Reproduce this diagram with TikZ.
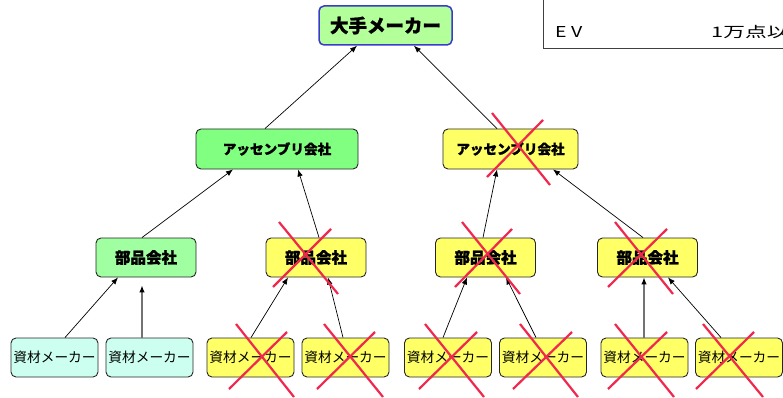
\documentclass[tikz,border=0pt]{standalone}
\usepackage{fontspec}
\newfontfamily\jp{Noto Sans CJK JP}[BoldFeatures={FakeBold=1.2}]
\newfontfamily\jpwide{Noto Sans CJK JP}[FakeStretch=1.3]
\newfontfamily\jpwider{Noto Sans CJK JP}[FakeStretch=1.5]
\usetikzlibrary{arrows.meta,calc}
\definecolor{topgreen}{HTML}{B3FF99}
\definecolor{midgreen}{HTML}{80FF80}
\definecolor{partgreen}{HTML}{A0FFA0}
\definecolor{matcyan}{HTML}{CCFFF0}
\definecolor{ylw}{HTML}{FFFF66}
\definecolor{xred}{HTML}{F0284E}
\definecolor{topblue}{HTML}{3A3ACC}
\tikzset{
  box/.style={draw=black!85, line width=0.9pt, rounded corners=5pt, inner sep=0pt, align=center},
  topbox/.style={box, draw=topblue, line width=1.5pt, fill=topgreen, minimum width=133pt, minimum height=39pt, font=\jp\bfseries\fontsize{18.5}{20}\selectfont},
  asmbox/.style={box, minimum height=40pt, font=\jp\bfseries\fontsize{13.6}{15}\selectfont},
  partbox/.style={box, minimum width=100pt, minimum height=39pt, font=\jp\bfseries\fontsize{15.5}{17}\selectfont},
  matbox/.style={box, minimum width=87pt, minimum height=39pt, font=\jp\fontsize{13.7}{15}\selectfont},
  arr/.style={draw=black, line width=0.7pt, -{Latex[length=7pt,width=5.5pt,color=black]}},
  garr/.style={arr, draw=black!55, line width=1.1pt},
  xline/.style={draw=xred, line width=2.2pt},
}
\begin{document}
\begin{tikzpicture}[x=1pt,y=-1pt]
\useasboundingbox (0,0) rectangle (783,398);
% table fragment top right
\begin{scope}
\clip (0,0) rectangle (783,398);
\draw[draw=black!75, line width=0.8pt] (543,-20) rectangle (820,48);
\node[anchor=west, inner sep=0pt, font=\jpwide\fontsize{15}{16}\selectfont] (ev) at (555,32) {E V};
\node[anchor=west, inner sep=0pt, font=\jpwider\fontsize{14.5}{16}\selectfont] (evn) at (711,32) {1万点以};
\end{scope}
% nodes
\node[topbox] (top) at (385.5,25.5) {大手メーカー};
\node[asmbox, fill=midgreen, minimum width=162pt] (ml) at (277,149) {アッセンブリ会社};
\node[asmbox, fill=ylw, minimum width=135pt] (mr) at (510.5,149) {アッセンブリ会社};
\node[partbox, fill=partgreen] (p1) at (146,257.5) {部品会社};
\node[partbox, fill=ylw] (p2) at (316,257.5) {部品会社};
\node[partbox, fill=ylw] (p3) at (485.5,257.5) {部品会社};
\node[partbox, fill=ylw] (p4) at (647.5,257.5) {部品会社};
\node[matbox, fill=matcyan] (b1) at (54.5,357.5) {資材メーカー};
\node[matbox, fill=matcyan] (b2) at (149.5,357.5) {資材メーカー};
\node[matbox, fill=ylw] (b3) at (250.5,357.5) {資材メーカー};
\node[matbox, fill=ylw] (b4) at (345.5,357.5) {資材メーカー};
\node[matbox, fill=ylw] (b5) at (448,357.5) {資材メーカー};
\node[matbox, fill=ylw] (b6) at (543,357.5) {資材メーカー};
\node[matbox, fill=ylw] (b7) at (644.5,357.5) {資材メーカー};
\node[matbox, fill=ylw] (b8) at (739,357.5) {資材メーカー};
% connectors
\draw[arr] ([xshift=-12pt]ml.north) -- ([xshift=-28.5pt]top.south);
\draw[arr] ([xshift=-13.5pt]mr.north) -- ([xshift=28.5pt]top.south);
\draw[arr] ([xshift=-4pt]p1.north) -- ([xshift=-44pt]ml.south);
\draw[arr] ([xshift=3pt]p2.north) -- ([xshift=21pt]ml.south);
\draw[arr] ([xshift=-2.5pt]p3.north) -- ([xshift=-13.5pt]mr.south);
\draw[arr] ([xshift=-4.5pt]p4.north) -- ([xshift=42.5pt]mr.south);
\draw[arr] ([xshift=10.5pt]b1.north) -- ([xshift=-28pt]p1.south);
\draw[garr] ([xshift=-7.5pt]b2.north) -- ([xshift=-4pt,yshift=-8pt]p1.south);
\draw[arr] ([xshift=0.5pt]b3.north) -- ([xshift=-28pt]p2.south);
\draw[arr] ([xshift=-2.5pt]b4.north) -- ([xshift=12pt]p2.south);
\draw[arr] ([xshift=-5pt]b5.north) -- ([xshift=-18.5pt]p3.south);
\draw[arr] ([xshift=-7pt]b6.north) -- ([xshift=20.5pt]p3.south);
\draw[garr] ([xshift=-0.5pt]b7.north) -- ([xshift=-3.5pt]p4.south);
\draw[arr] ([xshift=-18pt]b8.north) -- ([xshift=20.5pt]p4.south);
% red crosses
\draw[xline] (492,113) -- (550,185);
\draw[xline] (543,120) -- (487,177);
\draw[xline] (279,222) -- (338,294);
\draw[xline] (331,229) -- (273,287);
\draw[xline] (462,222) -- (520,294);
\draw[xline] (512,229) -- (455,287);
\draw[xline] (615,222) -- (673,294);
\draw[xline] (667,229) -- (608,287);
\draw[xline] (236,324) -- (294,397);
\draw[xline] (287,332) -- (229,389);
\draw[xline] (324,324) -- (383,397);
\draw[xline] (375,332) -- (317,389);
\draw[xline] (425,324) -- (484,397);
\draw[xline] (477,332) -- (419,389);
\draw[xline] (520,324) -- (578,397);
\draw[xline] (572,332) -- (513,389);
\draw[xline] (615,324) -- (674,397);
\draw[xline] (667,332) -- (608,389);
\draw[xline] (703,324) -- (763,397);
\draw[xline] (754,332) -- (696,389);
\end{tikzpicture}
\end{document}
